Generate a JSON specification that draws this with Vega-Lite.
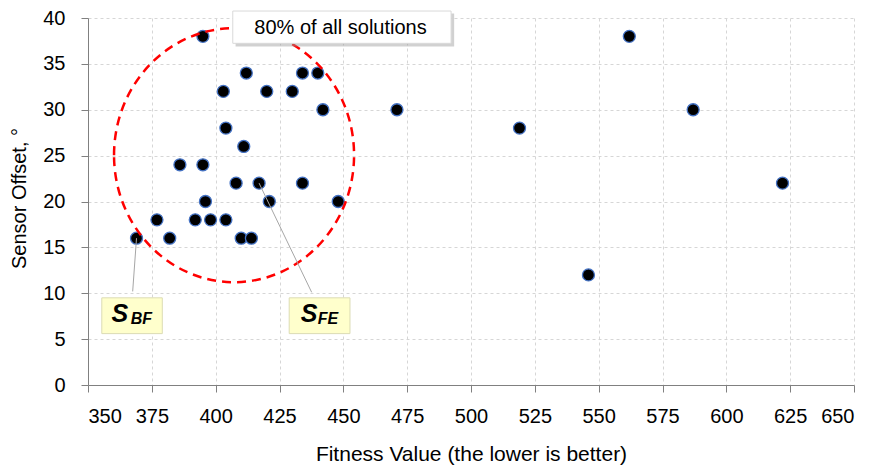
{
  "$schema": "https://vega.github.io/schema/vega-lite/v6.json",
  "width": 766,
  "height": 367,
  "autosize": "none",
  "padding": {"left": 88, "top": 18, "right": 19, "bottom": 83},
  "background": "white",
  "config": {"view": {"stroke": null}, "font": "Liberation Sans, Arial, sans-serif"},
  "datasets": {
    "solutions": [
      {"fitness": 369, "offset": 16}, {"fitness": 377, "offset": 18}, {"fitness": 382, "offset": 16},
      {"fitness": 386, "offset": 24}, {"fitness": 392, "offset": 18}, {"fitness": 395, "offset": 38},
      {"fitness": 395, "offset": 24}, {"fitness": 396, "offset": 20}, {"fitness": 398, "offset": 18},
      {"fitness": 403, "offset": 32}, {"fitness": 404, "offset": 28}, {"fitness": 404, "offset": 18},
      {"fitness": 408, "offset": 22}, {"fitness": 410, "offset": 16}, {"fitness": 411, "offset": 26},
      {"fitness": 412, "offset": 34}, {"fitness": 414, "offset": 16}, {"fitness": 417, "offset": 22},
      {"fitness": 420, "offset": 32}, {"fitness": 421, "offset": 20}, {"fitness": 430, "offset": 32},
      {"fitness": 434, "offset": 34}, {"fitness": 434, "offset": 22}, {"fitness": 440, "offset": 34},
      {"fitness": 442, "offset": 30}, {"fitness": 448, "offset": 20}, {"fitness": 471, "offset": 30},
      {"fitness": 519, "offset": 28}, {"fitness": 546, "offset": 12}, {"fitness": 562, "offset": 38},
      {"fitness": 587, "offset": 30}, {"fitness": 622, "offset": 22}
    ],
    "ellipse": [{"fitness": 407.2, "offset": 25.05}],
    "leaders": [
      {"fitness": 369, "offset": 16, "fitness2": 367.5, "offset2": 10.2},
      {"fitness": 417, "offset": 22, "fitness2": 437.6, "offset2": 10.1}
    ],
    "labelBoxes": [
      {"fitness": 355.4, "fitness2": 379.1, "offset": 5.6, "offset2": 9.5},
      {"fitness": 428.8, "fitness2": 452.6, "offset": 5.6, "offset2": 9.5}
    ],
    "mainLetters": [
      {"fitness": 362.5, "offset": 6.9, "text": "S"},
      {"fitness": 436.6, "offset": 6.9, "text": "S"}
    ],
    "subscripts": [
      {"fitness": 370.9, "offset": 6.7, "text": "BF"},
      {"fitness": 444.0, "offset": 6.7, "text": "FE"}
    ],
    "calloutShadow": [{"fitness": 407.8, "fitness2": 493.4, "offset": 36.9, "offset2": 40.5}],
    "callout": [{"fitness": 406.7, "fitness2": 492.2, "offset": 37.24, "offset2": 40.76}],
    "calloutText": [{"fitness": 448.9, "offset": 38.96, "text": "80% of all solutions"}]
  },
  "layer": [
    {
      "data": {"name": "solutions"},
      "mark": {"type": "circle", "size": 144, "fill": "#000000", "fillOpacity": 1, "stroke": "#4472C4", "strokeWidth": 1.3, "opacity": 1},
      "encoding": {
        "x": {
          "field": "fitness", "type": "quantitative",
          "scale": {"domain": [350, 650], "nice": false, "zero": false},
          "axis": {
            "title": "Fitness Value (the lower is better)",
            "values": [350, 375, 400, 425, 450, 475, 500, 525, 550, 575, 600, 625, 650],
            "grid": true, "gridDash": [3, 3], "gridColor": "#d6d6d6", "gridWidth": 1,
            "domainColor": "#808080", "tickColor": "#808080", "tickSize": 7,
            "labelFontSize": 20, "titleFontSize": 21, "labelColor": "#000000", "titleColor": "#000000",
            "titleFontWeight": "normal", "labelPadding": 14, "titlePadding": 17
          }
        },
        "y": {
          "field": "offset", "type": "quantitative",
          "scale": {"domain": [0, 40], "nice": false},
          "axis": {
            "title": "Sensor Offset, °",
            "values": [0, 5, 10, 15, 20, 25, 30, 35, 40],
            "grid": true, "gridDash": [3, 3], "gridColor": "#d6d6d6", "gridWidth": 1,
            "domainColor": "#808080", "tickColor": "#808080", "tickSize": 7,
            "labelFontSize": 20, "titleFontSize": 20, "labelColor": "#000000", "titleColor": "#000000",
            "titleFontWeight": "normal", "labelPadding": 16, "titleY": 180, "titleX": -59
          }
        }
      }
    },
    {
      "data": {"name": "ellipse"},
      "mark": {"type": "point", "shape": "M -0.945 0 A 0.945 1 0 1 1 0.945 0 A 0.945 1 0 1 1 -0.945 0 Z", "size": 64516, "filled": false, "color": "#FF0000", "stroke": "#FF0000", "strokeWidth": 2.5, "strokeDash": [9, 6], "opacity": 1},
      "encoding": {
        "x": {"field": "fitness", "type": "quantitative"},
        "y": {"field": "offset", "type": "quantitative"}
      }
    },
    {
      "data": {"name": "leaders"},
      "mark": {"type": "rule", "color": "#a6a6a6", "strokeWidth": 1},
      "encoding": {
        "x": {"field": "fitness", "type": "quantitative"},
        "y": {"field": "offset", "type": "quantitative"},
        "x2": {"field": "fitness2"},
        "y2": {"field": "offset2"}
      }
    },
    {
      "data": {"name": "labelBoxes"},
      "mark": {"type": "rect", "fill": "#FFFFCC", "stroke": "#dcdcb4", "strokeWidth": 1},
      "encoding": {
        "x": {"field": "fitness", "type": "quantitative"},
        "x2": {"field": "fitness2"},
        "y": {"field": "offset", "type": "quantitative"},
        "y2": {"field": "offset2"}
      }
    },
    {
      "data": {"name": "mainLetters"},
      "mark": {"type": "text", "font": "Liberation Sans", "fontSize": 25, "fontWeight": "bold", "fontStyle": "italic", "align": "center", "baseline": "alphabetic", "color": "#000000"},
      "encoding": {
        "x": {"field": "fitness", "type": "quantitative"},
        "y": {"field": "offset", "type": "quantitative"},
        "text": {"field": "text"}
      }
    },
    {
      "data": {"name": "subscripts"},
      "mark": {"type": "text", "font": "Liberation Sans", "fontSize": 16, "fontWeight": "bold", "fontStyle": "italic", "align": "center", "baseline": "alphabetic", "color": "#000000"},
      "encoding": {
        "x": {"field": "fitness", "type": "quantitative"},
        "y": {"field": "offset", "type": "quantitative"},
        "text": {"field": "text"}
      }
    },
    {
      "data": {"name": "calloutShadow"},
      "mark": {"type": "rect", "fill": "#9a9a9a", "opacity": 0.45},
      "encoding": {
        "x": {"field": "fitness", "type": "quantitative"},
        "x2": {"field": "fitness2"},
        "y": {"field": "offset", "type": "quantitative"},
        "y2": {"field": "offset2"}
      }
    },
    {
      "data": {"name": "callout"},
      "mark": {"type": "rect", "fill": "#FFFFFF", "stroke": "#d9d9d9", "strokeWidth": 1},
      "encoding": {
        "x": {"field": "fitness", "type": "quantitative"},
        "x2": {"field": "fitness2"},
        "y": {"field": "offset", "type": "quantitative"},
        "y2": {"field": "offset2"}
      }
    },
    {
      "data": {"name": "calloutText"},
      "mark": {"type": "text", "fontSize": 20, "align": "center", "baseline": "middle", "color": "#000000"},
      "encoding": {
        "x": {"field": "fitness", "type": "quantitative"},
        "y": {"field": "offset", "type": "quantitative"},
        "text": {"field": "text"}
      }
    }
  ]
}
